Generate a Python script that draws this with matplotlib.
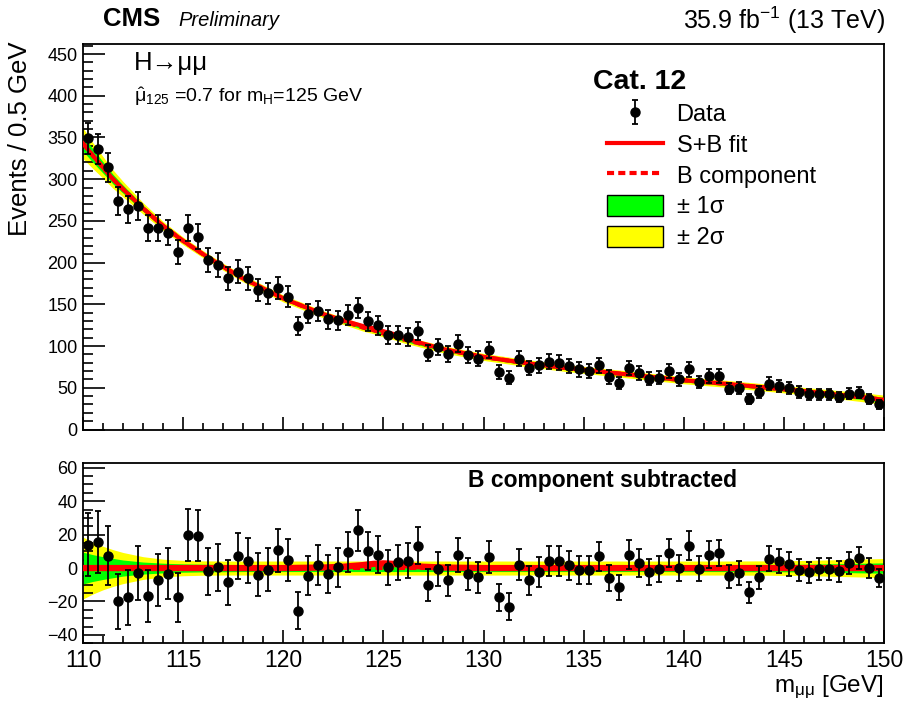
import matplotlib
matplotlib.use("Agg")
import matplotlib.pyplot as plt
import matplotlib.patches as mpatches
from matplotlib.ticker import MultipleLocator
import numpy as np

plt.rcParams['font.family'] = ['Liberation Sans', 'DejaVu Sans']
plt.rcParams['mathtext.fontset'] = 'custom'
plt.rcParams['mathtext.rm'] = 'Liberation Sans'
plt.rcParams['mathtext.it'] = 'Liberation Sans:italic'
plt.rcParams['mathtext.bf'] = 'Liberation Sans:bold'
plt.rcParams['mathtext.default'] = 'regular'

# binning: 80 bins of 0.5 GeV between 110 and 150
bin_lo = 110.0
bin_w = 0.5

# events per bin
data = [349, 336, 314, 274, 264, 268, 242, 241, 236, 213,
        241, 231, 203, 197, 181, 189, 181, 167, 163, 170,
        159, 124, 139, 142, 132, 131, 137, 146, 130, 125,
        113, 113, 111, 118, 92, 99, 90, 103, 89, 85,
        95, 69, 62, 85, 74, 77, 81, 80, 76, 72,
        70, 77, 63, 56, 74, 68, 61, 62, 70, 60,
        72, 57, 64, 64, 49, 50, 37, 45, 55, 52,
        50, 45, 42, 42, 42, 39, 43, 44, 37, 30]

# data minus B component
resid = [14, 15.6, 7.4, -20, -17.6, -3, -17, -7.4, -3.4, -17.4,
         20, 19.3, -2, 0.6, -8.4, 7, 4.4, -4, -1, 10.5,
         5, -25.6, -4.6, 2, -3.6, 0.4, 9.6, 22.5, 10, 8,
         0.4, 3.4, 4.4, 13.4, -10.4, -0.6, -7.4, 8, -3.6, -5.6,
         6.6, -17.6, -23, 2, -7.4, -2.4, 4.4, 4, 1.6, -1,
         -1.4, 7, -6, -11.6, 8, 3, -2.6, -0.4, 9, 0,
         13.4, -0.4, 8, 9, -5, -3, -14.6, -5.6, 5.6, 4,
         2.6, -1, -2.6, -0.6, -0.4, -2, 3, 6, 0, -6]

# fit curves and uncertainty bands
fit_x = [110, 110.5, 111, 111.5, 112, 113, 114, 115, 116, 117, 118, 120, 122, 123,
         124, 124.5, 125, 125.5, 126, 127, 128, 130, 132, 134, 136, 138, 140, 142,
         144, 146, 147, 148, 149, 150]
bkg = [343, 328, 314, 300, 288, 265, 244, 226, 210, 195, 181, 157, 138, 130,
       122, 119, 115, 112, 108, 102, 96, 87, 80, 74, 69, 64, 59, 55,
       50.5, 46, 43.5, 41, 38.5, 35.5]
sig = [0, 0, 0, 0, 0, 0, 0, 0, 0, 0, 0, 0, 0.3, 0.8,
       1.8, 2.5, 2.8, 2.5, 1.8, 0.8, 0.3, 0, 0, 0, 0, 0, 0, 0,
       0, 0, 0, 0, 0, 0]
err1 = [9.5, 8, 6.8, 5.8, 4.8, 3.6, 2.9, 2.5, 2.3, 2.2, 2.1, 2.1, 2.1, 2.1,
        2.1, 2.1, 2.1, 2.1, 2.1, 2.1, 2.1, 2.1, 2.1, 2.1, 2.1, 2.1, 2.1, 2.1,
        2.2, 2.3, 2.5, 2.7, 2.9, 3.1]
err2 = [18.5, 15.5, 13, 11, 9.3, 6.8, 5.3, 4.6, 4.3, 4.2, 4.2, 4.2, 4.2, 4.2,
        4.2, 4.2, 4.2, 4.2, 4.2, 4.2, 4.2, 4.2, 4.2, 4.2, 4.2, 4.2, 4.2, 4.2,
        4.3, 4.5, 4.8, 5.1, 5.4, 5.7]

centers = bin_lo + bin_w * (np.arange(len(data)) + 0.5)
data = np.array(data, dtype=float)
resid = np.array(resid, dtype=float)
errs = np.sqrt(data)
fit_x = np.array(fit_x)
bkg = np.array(bkg)
sig = np.array(sig)
err1 = np.array(err1)
err2 = np.array(err2)

GREEN = '#00ff00'
YELLOW = '#ffff00'
RED = '#ff0000'

W, H = 908, 703
fig = plt.figure(figsize=(W / 100, H / 100), dpi=100)

def fx(x):
    return x / W

def fy(y):
    return 1 - y / H

left, right = 83, 884
ax1 = fig.add_axes([fx(left), fy(429.5), fx(right - left), (429.5 - 44) / H])
ax2 = fig.add_axes([fx(left), fy(643.3), fx(right - left), (643.3 - 462.7) / H])

eb_kw = dict(fmt='o', color='black', markersize=6.5, elinewidth=1.3,
             capsize=2.5, capthick=1.3, zorder=5)

# top panel
ax1.fill_between(fit_x, bkg - err2, bkg + err2, color=YELLOW, lw=0, zorder=1)
ax1.fill_between(fit_x, bkg - err1, bkg + err1, color=GREEN, lw=0, zorder=2)
sb_line, = ax1.plot(fit_x, bkg + sig, color=RED, lw=3, zorder=3)
b_line, = ax1.plot(fit_x, bkg, color=RED, lw=3, ls=(0, (1.7, 1.0)), zorder=4)
dat = ax1.errorbar(centers, data, yerr=errs, **eb_kw)

# bottom panel
ax2.fill_between(fit_x, -err2, err2, color=YELLOW, lw=0, zorder=1)
ax2.fill_between(fit_x, -err1, err1, color=GREEN, lw=0, zorder=2)
ax2.plot(fit_x, sig, color=RED, lw=4.5, zorder=3)
ax2.plot(fit_x, np.zeros_like(fit_x), color=RED, lw=3, ls=(0, (1.7, 1.0)), zorder=4)
ax2.errorbar(centers, resid, yerr=errs, **eb_kw)

ax1.set_xlim(110, 150)
ax1.set_ylim(0, 462)
ax2.set_xlim(110, 150)
ax2.set_ylim(-45, 63)

for ax in (ax1, ax2):
    for sp in ax.spines.values():
        sp.set_linewidth(1.3)
    ax.xaxis.set_major_locator(MultipleLocator(5))
    ax.xaxis.set_minor_locator(MultipleLocator(1))
    ax.tick_params(axis='both', which='both', direction='in', width=1.2)
    ax.tick_params(axis='x', which='major', length=9.5)
    ax.tick_params(axis='x', which='minor', length=5)
    ax.tick_params(axis='y', which='major', length=15.5, pad=4)
    ax.tick_params(axis='y', which='minor', length=7.5)

ax1.yaxis.set_major_locator(MultipleLocator(50))
ax1.yaxis.set_minor_locator(MultipleLocator(10))
ax1.tick_params(axis='x', labelbottom=False)
ax1.tick_params(axis='y', labelsize=13)

ax2.yaxis.set_major_locator(MultipleLocator(20))
ax2.yaxis.set_minor_locator(MultipleLocator(5))
ax2.tick_params(axis='y', labelsize=13)
ax2.tick_params(axis='x', labelsize=16.5, pad=4)

# titles and labels
fig.text(fx(103), fy(26), 'CMS', fontsize=18.5, fontweight='bold', va='baseline')
fig.text(fx(178), fy(26), 'Preliminary', fontsize=14.5, style='italic', va='baseline')
fig.text(fx(885), fy(29), '35.9 fb$^{-1}$ (13 TeV)', fontsize=18, ha='right', va='baseline')
fig.text(fx(20), fy(41), 'Events / 0.5 GeV', fontsize=18.5, rotation=90,
         ha='center', va='top')
fig.text(fx(884), fy(692), 'm$_{\\mu\\mu}$ [GeV]', fontsize=17.5, ha='right', va='baseline')

fig.text(fx(134), fy(70), 'H\u2192\u03bc\u03bc', fontsize=18.5, va='baseline')
fig.text(fx(134), fy(102), '$\\hat{\\mu}_{125}$ =0.7 for m$_{H}$=125 GeV', fontsize=14,
         va='baseline')

fig.text(fx(593), fy(89), 'Cat. 12', fontsize=20.5, fontweight='bold', va='baseline')
fig.text(fx(602), fy(487), 'B component subtracted', fontsize=16.5, fontweight='bold',
         ha='center', va='baseline')

h1 = mpatches.Patch(facecolor=GREEN, edgecolor='black', lw=1)
h2 = mpatches.Patch(facecolor=YELLOW, edgecolor='black', lw=1)
ax1.legend([dat, sb_line, b_line, h1, h2],
           ['Data', 'S+B fit', 'B component', '\u00b1 1\u03c3', '\u00b1 2\u03c3'],
           loc='upper left', bbox_to_anchor=(0.654, 0.848), borderaxespad=0,
           borderpad=0, frameon=False, fontsize=17, handlelength=2.37,
           handleheight=1.0, handletextpad=0.58, labelspacing=0.3)

fig.savefig('out.png', dpi=100)
